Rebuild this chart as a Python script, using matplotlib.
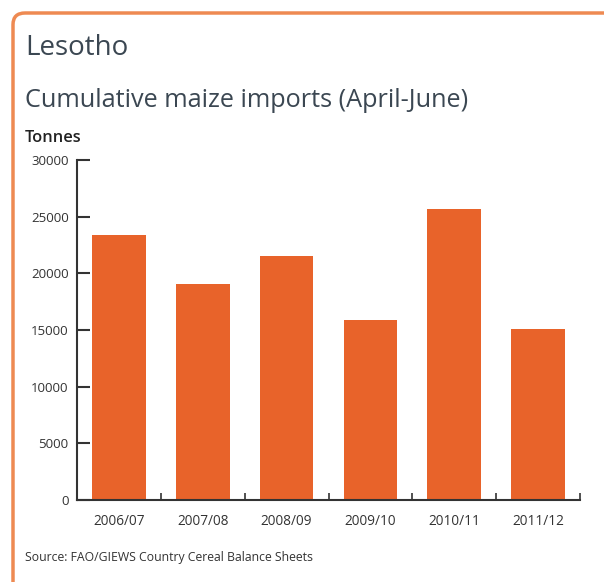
import matplotlib.pyplot as plt
from matplotlib.patches import FancyBboxPatch

seasons = ['2006/07', '2007/08', '2008/09', '2009/10', '2010/11', '2011/12']
imports = [23400, 19100, 21500, 15850, 25650, 15100]
yticks = [0, 5000, 10000, 15000, 20000, 25000, 30000]

bar_color = '#E8632A'
text_color = '#3b4752'
axis_color = '#333333'

plt.rcParams['font.family'] = ['Open Sans', 'DejaVu Sans']

fig = plt.figure(figsize=(6.04, 5.82), dpi=100)

# orange frame, only top-left visible
frame = FancyBboxPatch((13 / 604, -0.05), 1.0, 1 - 13 / 582 + 0.05,
                       boxstyle='round,pad=0,rounding_size=0.02',
                       transform=fig.transFigure, facecolor='none',
                       edgecolor='#EE8A52', linewidth=2.5, zorder=-1)
fig.patches.append(frame)

fig.text(25 / 604, 1 - 48 / 582, 'Lesotho', fontsize=20, color=text_color, va='center')
fig.text(25 / 604, 1 - 100 / 582, 'Cumulative maize imports (April-June)', fontsize=18.2,
         color=text_color, va='center')
fig.text(25 / 604, 1 - 138 / 582, 'Tonnes', fontsize=11.8, fontweight='semibold',
         color='#222222', va='center')
fig.text(25 / 604, 1 - 557 / 582, 'Source: FAO/GIEWS Country Cereal Balance Sheets',
         fontsize=8.8, color='#333333', va='center')

ax = fig.add_axes([77 / 604, 1 - 500 / 582, 503 / 604, 340 / 582])
ax.set_facecolor('none')
x = range(len(seasons))
ax.bar(x, imports, width=0.64, color=bar_color, zorder=2)

ax.set_xlim(-0.5, len(seasons) - 0.5)
ax.set_ylim(0, 30000)
ax.set_yticks(yticks)
ax.set_yticklabels([str(v) for v in yticks], fontsize=9.5, color='#333333')
ax.set_xticks(list(x))
ax.set_xticklabels(seasons, fontsize=9.8, color='#333333')
ax.set_xticks([i + 0.5 for i in x] + [-0.5], minor=True)

ax.tick_params(axis='y', direction='in', length=9, width=1.5, color=axis_color, pad=6)
ax.tick_params(axis='x', which='major', length=0, pad=10)
ax.tick_params(axis='x', which='minor', direction='in', length=5, width=1.2, color=axis_color)

for side in ['top', 'right']:
    ax.spines[side].set_visible(False)
for side in ['left', 'bottom']:
    ax.spines[side].set_color(axis_color)
    ax.spines[side].set_linewidth(1.5)

fig.savefig('out.png', dpi=100)
plt.close(fig)
